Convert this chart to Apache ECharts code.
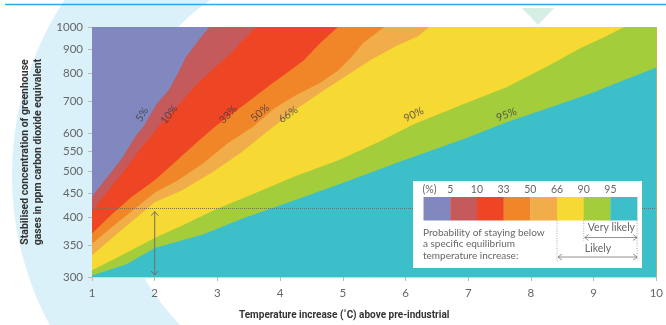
<!DOCTYPE html>
<html><head><meta charset="utf-8">
<script src="https://cdn.jsdelivr.net/npm/echarts@6/dist/echarts.min.js"></script>
<style>html,body{margin:0;padding:0;background:#fff}#c{width:666px;height:325px}</style>
</head><body><div id="c"></div>
<script>
// ---- data ----
const yTickValues = [300, 350, 400, 450, 500, 550, 600, 700, 800, 900, 1000];
const probLevels = ['5', '10', '33', '50', '66', '90', '95'];
const bandColors = ['#8088bf', '#c45a5c', '#ee4524', '#f08627', '#f0ad49', '#f6d933', '#a3cd3b', '#3cbfc9'];
const topT = [1, 10];
const topPpm = [1000, 1000];
// boundary lines (temperature °C, ppm CO2-eq)
const p05T = [1.0, 1.22, 1.49, 1.69, 1.83, 2.03, 2.23, 2.37, 2.50, 2.70, 2.87, 10];
const p05  = [442, 481, 535, 590, 622, 690, 740, 800, 866, 938, 1000, 1000];
const p10T = [1.0, 1.22, 1.49, 1.76, 2.03, 2.37, 2.70, 2.97, 3.21, 3.41, 3.62, 10];
const p10  = [412, 448, 496, 553, 612, 685, 765, 825, 880, 940, 1000, 1000];
const p33T = [1.0, 1.30, 1.63, 2.0, 2.37, 2.70, 2.97, 3.30, 3.58, 3.85, 4.11, 4.38, 4.62, 4.92, 10];
const p33  = [370, 404, 441, 478, 528, 578, 620, 668, 712, 758, 802, 852, 920, 1000, 1000];
const p50T = [1.0, 1.29, 1.63, 2.0, 2.37, 2.77, 3.17, 3.58, 3.91, 4.25, 4.65, 4.92, 5.12, 5.32, 5.66, 10];
const p50  = [352, 379, 412, 450, 478, 518, 572, 620, 676, 720, 765, 810, 860, 925, 1000, 1000];
const p66T = [1.0, 1.49, 2.0, 2.43, 2.90, 3.37, 3.80, 4.25, 4.65, 5.05, 5.45, 5.85, 6.20, 6.38, 10];
const p66  = [333, 378, 430, 455, 495, 545, 605, 672, 730, 790, 854, 913, 956, 1000, 1000];
const p90T = [1.0, 1.49, 2.0, 2.43, 2.97, 3.58, 4.25, 4.92, 5.59, 6.13, 6.93, 7.61, 8.28, 8.81, 9.15, 9.49, 10];
const p90  = [310, 334, 362, 384, 415, 448, 488, 526, 576, 626, 690, 748, 830, 906, 950, 1000, 1000];
const p95T = [1.0, 1.55, 2.0, 2.2, 2.77, 3.37, 4.25, 4.92, 5.93, 6.94, 7.61, 8.28, 8.95, 9.49, 10];
const p95  = [302, 319, 345, 351, 368, 396, 435, 468, 524, 584, 632, 677, 726, 775, 823];
// in-plot labels
const lineLabels = ['5%', '10%', '33%', '50%', '66%', '90%', '95%'];
const labelT = [1.80, 2.23, 3.17, 3.68, 4.13, 6.13, 7.61];
const labelPpm = [656, 656, 656, 661, 656, 656, 656];
const labelRot = [57, 52, 45, 40, 35, 27, 21];
const currentPpm = 413;   // dotted reference level
const arrowT = 2;

const chart = echarts.init(document.getElementById('c'), null, {renderer: 'canvas'});
const L = Math.log10;
const FONT = 'Lato, "Open Sans", sans-serif';

function area(T, P, color) {
  return {
    type: 'line', data: T.map((t, k) => [t, L(P[k])]), symbol: 'none', smooth: false,
    lineStyle: {width: 0}, areaStyle: {color: color, opacity: 1, origin: 'start'},
    silent: true, animation: false, z: 2
  };
}
const lines = [[p05T, p05], [p10T, p10], [p33T, p33], [p50T, p50], [p66T, p66], [p90T, p90], [p95T, p95]];
const series = [area(topT, topPpm, bandColors[0])];
lines.forEach((l, i) => series.push(area(l[0], l[1], bandColors[i + 1])));
series[series.length - 1].markLine = {
  silent: true, symbol: ['none', 'none'], label: {show: false},
  lineStyle: {color: '#6f6f6f', type: [1, 1], width: 1},
  data: [{yAxis: L(currentPpm)}], animation: false
};
series.push({
  type: 'scatter', symbolSize: 0, silent: true, animation: false, z: 5,
  data: lineLabels.map((s, i) => ({
    name: s, value: [labelT[i], L(labelPpm[i])],
    label: {rotate: labelRot[i]}
  })),
  label: {show: true, position: 'inside', formatter: p => p.name, color: '#3a3a48',
    fontSize: 10.5, fontFamily: FONT}
});

chart.setOption({
  animation: false,
  grid: {left: 92, right: 5, top: 27, bottom: 47, containLabel: false},
  xAxis: {
    type: 'value', min: 1, max: 10, interval: 1,
    axisLine: {show: true, lineStyle: {color: '#d5d5d5'}},
    axisTick: {show: true, length: 4, lineStyle: {color: '#bbb'}},
    axisLabel: {color: '#666', fontSize: 11.5, margin: 10, fontFamily: FONT},
    splitLine: {show: false},
    name: 'Temperature increase (˚C) above pre-industrial',
    nameLocation: 'middle', nameGap: 33,
    nameTextStyle: {fontWeight: 'bold', fontSize: 10, color: '#333', fontFamily: 'Roboto, sans-serif', padding: [0, 60, 0, 0]}
  },
  yAxis: {
    type: 'value', min: L(300), max: 3,
    axisLine: {show: true, lineStyle: {color: '#d5d5d5'}},
    axisTick: {show: true, length: 4, customValues: yTickValues.map(L), lineStyle: {color: '#bbb'}},
    axisLabel: {customValues: yTickValues.map(L), formatter: v => String(Math.round(Math.pow(10, v))),
      color: '#666', fontSize: 11.5, margin: 9, fontFamily: FONT},
    splitLine: {show: false},
    name: 'Stabilised concentration of greenhouse\ngases in ppm carbon dioxide equivalent',
    nameLocation: 'middle', nameGap: 47, nameRotate: 90,
    nameTextStyle: {fontWeight: 'bold', fontSize: 10.5, color: '#333', lineHeight: 13, fontFamily: 'Roboto, sans-serif'}
  },
  series: series
});

// decorations + legend box + arrow
const g = [];
g.push({type: 'sector', z: -10, silent: true,
  shape: {cx: 330, cy: 175, r: 318, r0: 212, startAngle: Math.PI / 2, endAngle: Math.PI * 1.5, clockwise: true},
  style: {fill: '#daf1fa'}});
g.push({type: 'line', z: 1, silent: true, shape: {x1: 5, y1: 4.5, x2: 666, y2: 4.5}, style: {stroke: '#2ea8e0', lineWidth: 1.5}});
g.push({type: 'polygon', z: -5, silent: true, shape: {points: [[522, 8], [554, 8], [538, 25]]}, style: {fill: '#d5efe5'}});

const bx = 413, by = 181, bw = 229, bh = 87;
g.push({type: 'rect', z: 100, silent: true, shape: {x: bx, y: by, width: bw, height: bh}, style: {fill: '#fff'}});
const barX = 423.5, barY = 197, segW = 26.7, barH = 23.5;
bandColors.forEach((c, i) => g.push({type: 'rect', z: 101, silent: true,
  shape: {x: barX + i * segW, y: barY, width: segW + 0.3, height: barH}, style: {fill: c}}));
const tf = '10.5px ' + FONT;
g.push({type: 'text', z: 102, silent: true, style: {text: '(%)', x: barX + 6, y: 190, align: 'center', verticalAlign: 'middle', font: tf, fill: '#666'}});
probLevels.forEach((s, i) => g.push({type: 'text', z: 102, silent: true,
  style: {text: s, x: barX + (i + 1) * segW, y: 190, align: 'center', verticalAlign: 'middle', font: tf, fill: '#666'}}));
['Probability of staying below', 'a specific equilibrium', 'temperature increase:'].forEach((s, i) =>
  g.push({type: 'text', z: 102, silent: true, style: {text: s, x: 423, y: 232.5 + i * 11.5, verticalAlign: 'middle', font: '10px ' + FONT, fill: '#666'}}));
const xLik = barX + 5 * segW, xVL = barX + 6 * segW, xEnd = barX + 8 * segW;
const dash = {stroke: '#999', lineWidth: 0.8, lineDash: [1, 1.5]};
g.push({type: 'line', z: 102, silent: true, shape: {x1: xLik, y1: barY + barH, x2: xLik, y2: 261}, style: dash});
g.push({type: 'line', z: 102, silent: true, shape: {x1: xVL, y1: barY + barH, x2: xVL, y2: 241}, style: dash});
g.push({type: 'line', z: 102, silent: true, shape: {x1: xEnd, y1: barY + barH, x2: xEnd, y2: 261}, style: dash});
function hArrow(x1, x2, y) {
  const st = {stroke: '#777', lineWidth: 0.8, fill: 'none'};
  g.push({type: 'line', z: 103, silent: true, shape: {x1: x1, y1: y, x2: x2, y2: y}, style: st});
  g.push({type: 'polyline', z: 103, silent: true, shape: {points: [[x1 + 4, y - 3], [x1, y], [x1 + 4, y + 3]]}, style: st});
  g.push({type: 'polyline', z: 103, silent: true, shape: {points: [[x2 - 4, y - 3], [x2, y], [x2 - 4, y + 3]]}, style: st});
}
hArrow(xVL + 1, xEnd, 237.5);
hArrow(xLik + 1, xEnd, 257);
g.push({type: 'text', z: 102, silent: true, style: {text: 'Very likely', x: (xVL + xEnd) / 2 + 1, y: 227.5, align: 'center', verticalAlign: 'middle', font: tf, fill: '#666'}});
g.push({type: 'text', z: 102, silent: true, style: {text: 'Likely', x: 598, y: 249, align: 'center', verticalAlign: 'middle', font: tf, fill: '#666'}});

// vertical double arrow at arrowT from current level down to axis min
const pTop = chart.convertToPixel({gridIndex: 0}, [arrowT, L(currentPpm)]);
const pBot = chart.convertToPixel({gridIndex: 0}, [arrowT, L(300)]);
const ast = {stroke: '#6f6f6f', lineWidth: 1, fill: 'none'};
g.push({type: 'line', z: 50, silent: true, shape: {x1: pTop[0], y1: pTop[1] + 1, x2: pBot[0], y2: pBot[1] - 2}, style: ast});
g.push({type: 'polyline', z: 50, silent: true, shape: {points: [[pTop[0] - 3.5, pTop[1] + 5], [pTop[0], pTop[1] + 1], [pTop[0] + 3.5, pTop[1] + 5]]}, style: ast});
g.push({type: 'polyline', z: 50, silent: true, shape: {points: [[pBot[0] - 3.5, pBot[1] - 6], [pBot[0], pBot[1] - 2], [pBot[0] + 3.5, pBot[1] - 6]]}, style: ast});

chart.setOption({graphic: {elements: g}});
</script></body></html>
